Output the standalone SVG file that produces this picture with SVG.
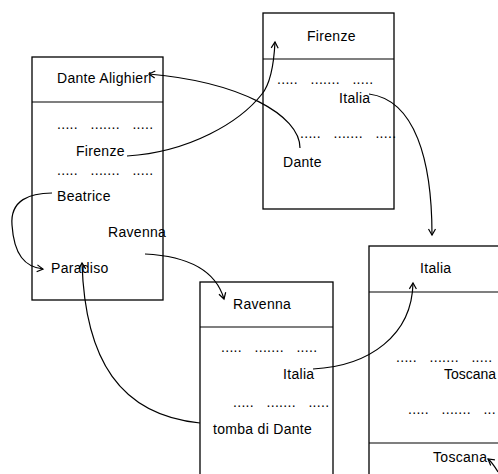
<svg xmlns="http://www.w3.org/2000/svg" width="498" height="474" viewBox="0 0 498 474">
<defs>
<style>
.box{fill:none;stroke:#000;stroke-width:1.3}
.ln{fill:none;stroke:#000;stroke-width:1.2}
.t{font-family:"Liberation Sans",Arial,sans-serif;font-size:14px;letter-spacing:0.3px;fill:#000}
.c{fill:none;stroke:#000;stroke-width:1.2;marker-end:url(#ah)}
</style>
<marker id="ah" markerUnits="userSpaceOnUse" markerWidth="12" markerHeight="12" refX="0" refY="0" viewBox="-8 -6 10 12" orient="auto">
<path d="M-6,-3.5 L0,0 L-6,3.5" fill="none" stroke="#000" stroke-width="1.2"/>
</marker>
</defs>
<rect width="498" height="474" fill="#fff"/>

<g id="dante">
<rect class="box" x="32" y="57" width="131" height="243"/>
<line class="ln" x1="32" y1="102" x2="163" y2="102"/>
<text class="t" x="57" y="83">Dante Alighieri</text>
<text class="t" x="57" y="129" xml:space="preserve">.....   .......   .....</text>
<text class="t" x="76" y="156">Firenze</text>
<text class="t" x="57" y="175" xml:space="preserve">.....   .......   .....</text>
<text class="t" x="57" y="201">Beatrice</text>
<text class="t" x="108" y="237">Ravenna</text>
<text class="t" x="51" y="273">Paradiso</text>
</g>

<g id="firenze">
<rect class="box" x="263" y="13" width="131" height="196"/>
<line class="ln" x1="263" y1="59" x2="394" y2="59"/>
<text class="t" x="307" y="41">Firenze</text>
<text class="t" x="277" y="83.5" xml:space="preserve">.....   .......   .....</text>
<text class="t" x="339" y="103">Italia</text>
<text class="t" x="300" y="137.5" xml:space="preserve">.....   .......   .....</text>
<text class="t" x="283" y="167">Dante</text>
</g>

<g id="ravenna">
<rect class="box" x="200" y="282" width="133" height="210"/>
<line class="ln" x1="200" y1="327" x2="333" y2="327"/>
<text class="t" x="233" y="309">Ravenna</text>
<text class="t" x="221" y="351.5" xml:space="preserve">.....   .......   .....</text>
<text class="t" x="283" y="379">Italia</text>
<text class="t" x="233" y="406.5" xml:space="preserve">.....   .......   .....</text>
<text class="t" x="213" y="434">tomba di Dante</text>
</g>

<g id="italia">
<rect class="box" x="369" y="246" width="150" height="250"/>
<line class="ln" x1="369" y1="292" x2="519" y2="292"/>
<line class="ln" x1="369" y1="443" x2="519" y2="443"/>
<text class="t" x="420" y="273">Italia</text>
<text class="t" x="396" y="361.5" xml:space="preserve">.....   .......   .....</text>
<text class="t" x="444" y="379" style="letter-spacing:0">Toscana</text>
<text class="t" x="408" y="414" xml:space="preserve">.....   .......   ...</text>
<text class="t" x="433" y="462">Toscana</text>
</g>

<g id="connectors">
<path class="c" d="M300,148 C300,115 240,82 149,74"/>
<path class="c" d="M127,156 C190,152 240,122 262,94 C271,83 274,62 275,42"/>
<path class="c" d="M369,94 C415,100 432,160 432,235"/>
<path class="c" d="M145,254 C185,256 215,268 224,299"/>
<path class="c" d="M313,369 C370,366 412,335 413,283"/>
<path class="c" d="M200,423 C120,415 85,360 82,263"/>
<path class="c" d="M52,193 C30,193 10,200 12,225 C14,255 25,267 43,269"/>
<path class="c" d="M498,472 C495,467 492,462 488,459"/>
</g>
</svg>
